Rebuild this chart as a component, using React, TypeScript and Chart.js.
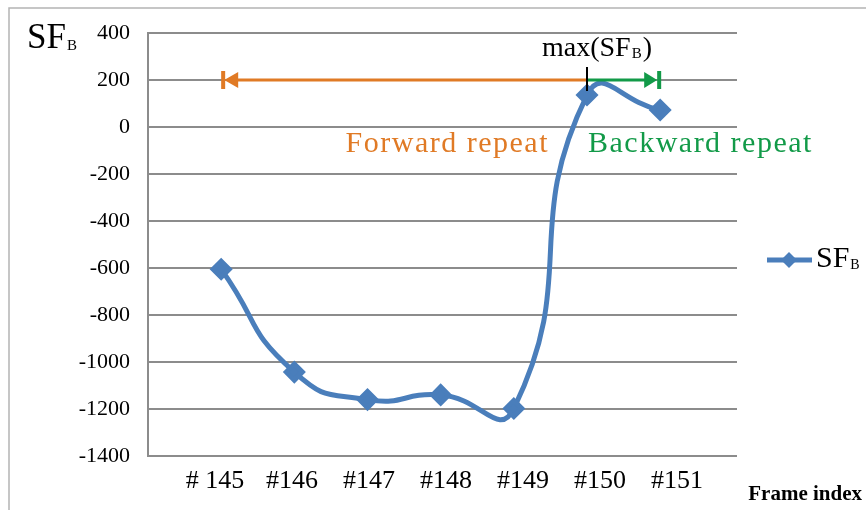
import React, { useEffect, useRef } from "react";
import { Chart, registerables } from "chart.js";

Chart.register(...registerables);

const categories = ["# 145", "#146", "#147", "#148", "#149", "#150", "#151"];
const frameIndex = [145, 146, 147, 148, 149, 150, 151];
const sfValues = [-605, -1043, -1160, -1140, -1198, 136, 72];
const yTicks = [-1400, -1200, -1000, -800, -600, -400, -200, 0, 200, 400];
const forwardArrow = [145.0, 150]; // x range at y = 200
const backwardArrow = [150, 151];
const arrowLevel = 200;

const SERIF = '"Liberation Serif", "Times New Roman", serif';
const BLUE = "#4a7ebb";
const ORANGE = "#e07a25";
const GREEN = "#129a48";

function drawSubText(
  ctx: CanvasRenderingContext2D,
  x: number,
  y: number,
  main: string,
  sub: string,
  size: number,
  subSize: number,
  color: string,
  tail = ""
) {
  ctx.save();
  ctx.fillStyle = color;
  ctx.textAlign = "left";
  ctx.textBaseline = "alphabetic";
  ctx.font = `${size}px ${SERIF}`;
  ctx.fillText(main, x, y);
  let w = ctx.measureText(main).width;
  ctx.font = `${subSize}px ${SERIF}`;
  ctx.fillText(sub, x + w + 1, y + 2);
  w += ctx.measureText(sub).width + 2;
  if (tail) {
    ctx.font = `${size}px ${SERIF}`;
    ctx.fillText(tail, x + w, y);
  }
  ctx.restore();
}

function measureSub(ctx: CanvasRenderingContext2D, main: string, sub: string, size: number, subSize: number, tail = "") {
  ctx.save();
  ctx.font = `${size}px ${SERIF}`;
  let w = ctx.measureText(main).width + ctx.measureText(tail).width;
  ctx.font = `${subSize}px ${SERIF}`;
  w += ctx.measureText(sub).width + 2;
  ctx.restore();
  return w;
}

const annotationPlugin = {
  id: "annotations",
  beforeDraw(chart: any) {
    const ctx = chart.ctx as CanvasRenderingContext2D;
    ctx.save();
    ctx.strokeStyle = "#b4b4b4";
    ctx.lineWidth = 1.5;
    ctx.beginPath();
    ctx.moveTo(9, 510);
    ctx.lineTo(9, 8);
    ctx.lineTo(866, 8);
    ctx.stroke();
    ctx.restore();
  },
  afterDraw(chart: any) {
    const ctx = chart.ctx as CanvasRenderingContext2D;
    const xs = chart.scales.x;
    const ys = chart.scales.y;
    const yA = ys.getPixelForValue(arrowLevel);

    // forward (orange) arrow
    const fx0 = xs.getPixelForValue(forwardArrow[0]);
    const fx1 = xs.getPixelForValue(forwardArrow[1]);
    ctx.save();
    ctx.lineWidth = 3;
    ctx.strokeStyle = ORANGE;
    ctx.fillStyle = ORANGE;
    ctx.beginPath();
    ctx.moveTo(fx0 + 10, yA);
    ctx.lineTo(fx1, yA);
    ctx.stroke();
    ctx.beginPath();
    ctx.moveTo(fx0 + 3, yA);
    ctx.lineTo(fx0 + 17, yA - 8);
    ctx.lineTo(fx0 + 17, yA + 8);
    ctx.closePath();
    ctx.fill();
    ctx.fillRect(fx0, yA - 9, 4, 18);

    // backward (green) arrow
    const bx0 = xs.getPixelForValue(backwardArrow[0]);
    const bx1 = xs.getPixelForValue(backwardArrow[1]);
    ctx.strokeStyle = GREEN;
    ctx.fillStyle = GREEN;
    ctx.beginPath();
    ctx.moveTo(bx0, yA);
    ctx.lineTo(bx1 - 10, yA);
    ctx.stroke();
    ctx.beginPath();
    ctx.moveTo(bx1 - 3, yA);
    ctx.lineTo(bx1 - 16, yA - 8);
    ctx.lineTo(bx1 - 16, yA + 8);
    ctx.closePath();
    ctx.fill();
    ctx.fillRect(bx1 - 3, yA - 9, 4, 18);

    // black marker at max
    ctx.strokeStyle = "#000";
    ctx.lineWidth = 2;
    ctx.beginPath();
    ctx.moveTo(bx0, yA - 13);
    ctx.lineTo(bx0, yA + 11);
    ctx.stroke();
    ctx.restore();

    // max(SF_B) label
    const mw = measureSub(ctx, "max(SF", "B", 28, 15, ")");
    drawSubText(ctx, bx0 + 10 - mw / 2, 56, "max(SF", "B", 28, 15, "#000", ")");

    // Forward / Backward repeat labels
    ctx.save();
    ctx.font = `30px ${SERIF}`;
    (ctx as any).letterSpacing = "1.5px";
    ctx.textBaseline = "alphabetic";
    ctx.fillStyle = ORANGE;
    ctx.textAlign = "right";
    ctx.fillText("Forward repeat", bx0 - 38, 152);
    ctx.fillStyle = GREEN;
    ctx.textAlign = "left";
    ctx.fillText("Backward repeat", bx0 + 1, 152);
    ctx.restore();

    // Y axis title
    drawSubText(ctx, 27, 48, "SF", "B", 35, 15, "#000");

    // X axis title
    ctx.save();
    ctx.font = `bold 21px ${SERIF}`;
    ctx.fillStyle = "#000";
    ctx.textAlign = "right";
    ctx.textBaseline = "alphabetic";
    ctx.fillText("Frame index", 862, 500);
    ctx.restore();

    // Legend
    ctx.save();
    ctx.strokeStyle = BLUE;
    ctx.fillStyle = BLUE;
    ctx.lineWidth = 5;
    ctx.beginPath();
    ctx.moveTo(767, 260);
    ctx.lineTo(812, 260);
    ctx.stroke();
    ctx.beginPath();
    ctx.moveTo(789, 252);
    ctx.lineTo(797, 260);
    ctx.lineTo(789, 268);
    ctx.lineTo(781, 260);
    ctx.closePath();
    ctx.fill();
    ctx.restore();
    drawSubText(ctx, 816, 267, "SF", "B", 30, 14, "#000");
  },
};

export default function App() {
  const canvasRef = useRef<HTMLCanvasElement | null>(null);

  useEffect(() => {
    if (!canvasRef.current) return;
    const chart = new Chart(canvasRef.current, {
      type: "line",
      data: {
        datasets: [
          {
            label: "SFB",
            data: frameIndex.map((f, i) => ({ x: f, y: sfValues[i] })),
            borderColor: BLUE,
            backgroundColor: BLUE,
            borderWidth: 5,
            pointStyle: "rectRot",
            pointRadius: 8,
            pointHoverRadius: 8,
            tension: 0.55,
            xAxisID: "x",
            yAxisID: "y",
          },
        ],
      },
      options: {
        animation: false,
        responsive: true,
        maintainAspectRatio: false,
        layout: { padding: { top: 33, right: 129, left: 0, bottom: 0 } },
        plugins: {
          legend: { display: false },
          tooltip: { enabled: false },
          title: { display: false },
        },
        scales: {
          x: {
            type: "linear",
            display: false,
            min: 144,
            max: 152.05,
          },
          xl: {
            type: "linear",
            position: "bottom",
            min: 144.13,
            max: 151.78,
            grid: { display: false, drawTicks: false },
            border: { display: false },
            afterBuildTicks: (scale: any) => {
              scale.ticks = frameIndex.map((v) => ({ value: v }));
            },
            afterFit: (scale: any) => {
              scale.height = 54;
            },
            ticks: {
              autoSkip: false,
              maxRotation: 0,
              padding: 10,
              color: "#000",
              font: { family: SERIF, size: 26 },
              callback: (v: any) => categories[frameIndex.indexOf(Number(v))] ?? "",
            },
          },
          y: {
            type: "linear",
            min: -1400,
            max: 400,
            afterBuildTicks: (scale: any) => {
              scale.ticks = yTicks.map((v) => ({ value: v }));
            },
            afterFit: (scale: any) => {
              scale.width = 148;
            },
            grid: { color: "#8c8c8c", lineWidth: 2, drawTicks: false },
            border: { display: true, color: "#8c8c8c", width: 2 },
            ticks: {
              padding: 18,
              color: "#000",
              font: { family: SERIF, size: 22 },
              callback: (v: any) => String(v),
            },
          },
        },
      },
      plugins: [annotationPlugin],
    });
    return () => chart.destroy();
  }, []);

  return (
    <div style={{ position: "absolute", left: 0, top: 0, width: 866, height: 510, background: "#fff" }}>
      <canvas ref={canvasRef} />
    </div>
  );
}
